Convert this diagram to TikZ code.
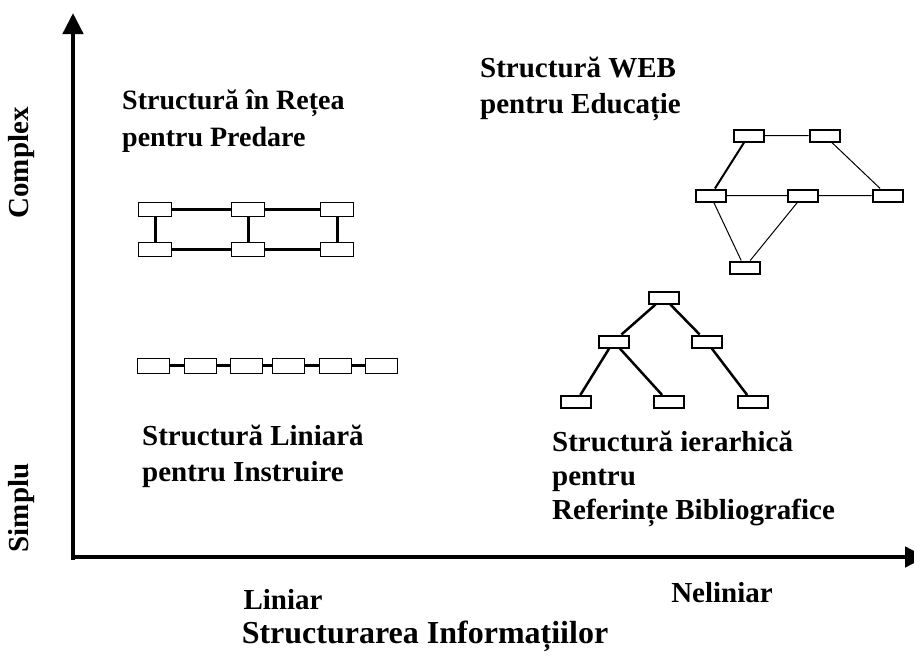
\documentclass[tikz,border=0pt]{standalone}
\usepackage{fontspec}
\setmainfont{Liberation Serif}
\usepackage{tikz}
\usetikzlibrary{calc,arrows.meta,positioning}
\tikzset{
  lbl/.style={font=\fontsize{29}{36}\selectfont\bfseries,align=left,inner sep=0pt},
  ax/.style={line width=4.5pt,-{Triangle[length=21pt,width=20pt]}},
  sb/.style={draw,line width=1pt,minimum width=33pt,minimum height=14pt,inner sep=0pt},
  bb/.style={draw,line width=2pt,minimum width=30pt,minimum height=12pt,inner sep=0pt},
  ln/.style={line width=3pt},
  lk/.style={line width=1pt},
  lt/.style={line width=2.5pt}
}
\begin{document}
\begin{tikzpicture}[x=1pt,y=-1pt]
\useasboundingbox (0,0) rectangle (914,659);
\coordinate (o) at (73,557);
\coordinate (yend) at (73,13);
\coordinate (xend) at (926,557);
\draw[ax] ($(o)+(0,3)$) -- (yend);
\draw[ax] ($(o)+(-2,0)$) -- (xend);
\node[lbl,rotate=90] (cpx) at (22,163) {Complex};
\node[lbl,rotate=90] (smp) at (22,508) {Simplu};
\node[lbl,anchor=base] (lin) at (283,609) {Liniar};
\node[lbl,anchor=base] (nlin) at (722,602) {Neliniar};
\node[lbl,anchor=base,font=\fontsize{32}{36}\selectfont\bfseries] (tit) at (425,643) {Structurarea Informațiilor};
% titluri
\node[lbl,anchor=base west,font=\fontsize{28}{37}\selectfont\bfseries] (tnet) at (122,146) {Structură în Rețea\\pentru Predare};
\node[lbl,anchor=base west] (tweb) at (480,113) {Structură WEB\\pentru Educație};
\node[lbl,anchor=base west] (tlin) at (142,481) {Structură Liniară\\pentru Instruire};
\node[lbl,anchor=base west,font=\fontsize{29}{34}\selectfont\bfseries] (tier) at (552,519) {Structură ierarhică\\pentru\\Referințe Bibliografice};
% retea
\node[sb] (n1) at (155,209) {};
\node[sb] (n2) at (248,209) {};
\node[sb] (n3) at (337,209) {};
\node[sb] (n4) at (155,249) {};
\node[sb] (n5) at (248,249) {};
\node[sb] (n6) at (337,249) {};
\draw[ln] (n1)--(n2) (n2)--(n3) (n4)--(n5) (n5)--(n6) (n1)--(n4) (n2)--(n5) (n3)--(n6);
% liniar
\foreach \i/\xx in {1/153.5,2/200,3/246.5,4/288,5/335,6/381.5}{
  \node[sb,minimum height=15pt,minimum width=32pt] (c\i) at (\xx,365.5) {};
}
\foreach \i/\j in {1/2,2/3,3/4,4/5,5/6}{\draw[ln] (c\i)--(c\j);}
% web
\node[bb] (wa) at (748.5,135.5) {};
\node[bb] (wb) at (824.5,135.5) {};
\node[bb] (wc) at (710.5,195.5) {};
\node[bb] (wd) at (803,195.5) {};
\node[bb] (we) at (887.5,195.5) {};
\node[bb] (wf) at (744.5,267.5) {};
\draw[lk] (wa)--(wb) (wb)--(we) (wc)--(wd) (wd)--(we) (wc)--(wf) (wd)--(wf);
\draw[line width=2pt] (wa)--(wc);
% arbore
\node[bb] (r) at (663.5,297.5) {};
\node[bb] (r1) at (613.5,341.5) {};
\node[bb] (r2) at (706.5,341.5) {};
\node[bb] (r11) at (576,402) {};
\node[bb] (r12) at (668.5,402) {};
\node[bb] (r22) at (752.5,402) {};
\draw[lt] (r)--(r1) (r)--(r2) (r1)--(r11) (r1)--(r12) (r2)--(r22);
\end{tikzpicture}
\end{document}
